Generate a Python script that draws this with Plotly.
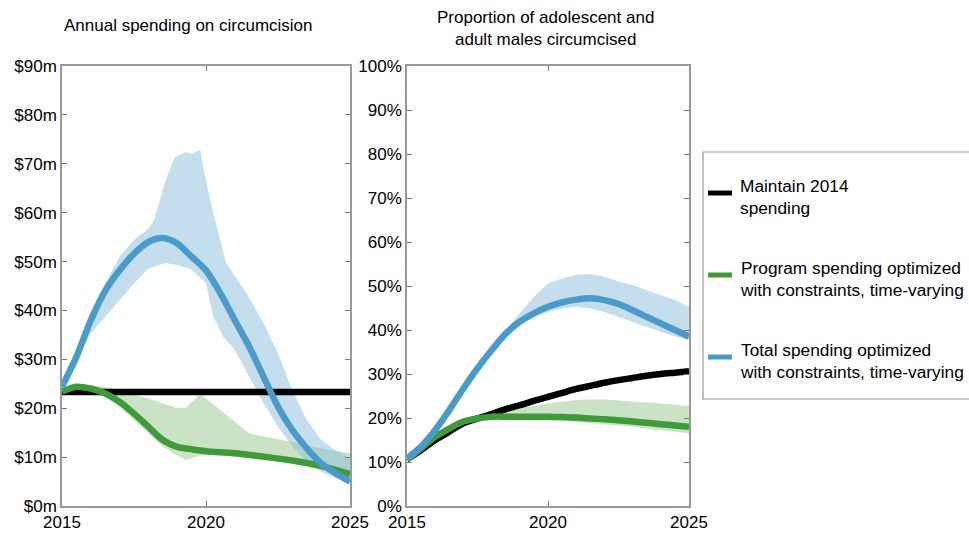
import plotly.graph_objects as go

# ---------------- data ----------------
years_L = [2015, 2015.5, 2016, 2016.5, 2017, 2017.5, 2018, 2018.5, 2019, 2019.5, 2020,
           2020.5, 2021, 2021.5, 2022, 2022.5, 2023, 2023.5, 2024, 2024.5, 2025]
blue_spend = [24.4, 30.5, 38, 44, 48.2, 51.6, 54, 54.8, 53.7, 51, 48.2,
              43.5, 38, 32.6, 26.4, 20.3, 15.5, 11.8, 8.7, 6.7, 5.0]
black_years_L = [2015, 2025]
black_spend = [23.3, 23.3]
green_years_L = [2015, 2015.5, 2016, 2016.5, 2017, 2017.5, 2018, 2018.5, 2019, 2019.5,
                 2020, 2021, 2022, 2023, 2024, 2025]
green_spend = [23.4, 24.4, 24, 23, 21.3, 18.9, 16.2, 13.5, 12.1, 11.6,
               11.2, 10.8, 10.1, 9.3, 8.2, 6.5]

blue_spend_hi_x = [2015, 2015.5, 2016, 2016.5, 2017, 2017.5, 2018, 2018.2, 2018.6, 2018.9,
                   2019.3, 2019.5, 2019.8, 2019.9, 2020.25, 2020.7, 2021.4, 2022, 2022.5,
                   2023, 2023.5, 2024, 2024.5, 2025]
blue_spend_hi = [25.4, 31.5, 38.7, 45.5, 51, 54.4, 56.7, 58.5, 66.7, 71.2,
                 72.4, 72.0, 72.8, 69.3, 60, 49.7, 43.6, 37.4, 31.2,
                 23.7, 17.6, 13.5, 11.4, 9.7]
blue_spend_lo_x = [2015, 2015.5, 2016, 2016.5, 2017, 2017.5, 2018, 2018.6, 2019, 2019.5,
                   2020, 2020.25, 2020.6, 2021, 2021.5, 2022, 2022.5, 2023, 2023.5, 2024,
                   2024.5, 2025]
blue_spend_lo = [23.7, 29.8, 35.3, 38.7, 42.1, 45.5, 48.6, 49.7, 49.3, 48.3,
                 45.6, 38.7, 34.6, 31.9, 26.4, 21, 16.2, 12.1, 9.1, 7,
                 5.7, 4.6]
green_spend_hi_x = [2015, 2015.5, 2016, 2016.5, 2017, 2017.5, 2018, 2018.5, 2019, 2019.3,
                    2019.8, 2020, 2020.5, 2021, 2021.5, 2022, 2023, 2024, 2025]
green_spend_hi = [23.4, 25, 24.7, 24.4, 23.7, 22.7, 22, 21, 20, 20.1,
                  22.9, 22, 19.6, 17.2, 14.9, 14.2, 13.1, 11.8, 10.8]
green_spend_lo_x = [2015, 2016, 2016.5, 2017, 2017.5, 2018, 2018.5, 2019, 2019.3, 2019.7,
                    2020, 2021, 2022, 2023, 2024, 2025]
green_spend_lo = [23, 23.4, 22.3, 20.3, 17.6, 14.9, 12.1, 10.4, 9.4, 10.1,
                  10.8, 10.1, 9.4, 8.7, 7.4, 6]

years_R = [2015, 2015.5, 2016, 2016.5, 2017, 2017.5, 2018, 2018.5, 2019, 2019.5, 2020,
           2020.5, 2021, 2021.5, 2022, 2022.5, 2023, 2023.5, 2024, 2024.5, 2025]
black_prop = [10.6, 12.7, 15, 16.9, 18.8, 19.9, 20.9, 22, 22.9, 23.9, 24.8,
              25.7, 26.6, 27.3, 28, 28.6, 29.1, 29.6, 30, 30.3, 30.6]
green_prop = [10.6, 13.1, 15.7, 17.6, 19.2, 19.9, 20.3, 20.3, 20.3, 20.3, 20.3,
              20.2, 20.1, 19.9, 19.7, 19.5, 19.2, 18.9, 18.6, 18.3, 18]
blue_prop = [10.8, 13.5, 17.3, 21.8, 26.7, 31.3, 35.4, 39.2, 41.9, 43.8, 45.3,
             46.3, 46.9, 47.2, 46.8, 45.9, 44.5, 43, 41.5, 40, 38.5]
band_years_R = [2015, 2016, 2017, 2018, 2019, 2019.5, 2020, 2020.5, 2021, 2021.5, 2022,
                2022.5, 2023, 2023.5, 2024, 2024.5, 2025]
blue_prop_hi = [10.8, 17.6, 27.1, 36.2, 43.8, 47.5, 50.6, 51.7, 52.5, 52.7, 52.1,
                51, 50.2, 49, 47.9, 46.8, 45.3]
blue_prop_lo = [10.8, 17, 26.3, 34.7, 41.1, 43, 44.1, 44.9, 45.3, 44.9, 44.1,
                43, 41.9, 40.7, 39.6, 38.5, 37.7]
green_prop_hi = [10.6, 15.9, 19.4, 20.7, 22.2, 22.8, 23.3, 23.7, 24.1, 24.2, 24.2,
                 24.0, 23.7, 23.5, 23.3, 23.0, 22.7]
green_prop_lo = [10.6, 15.5, 19.0, 19.9, 19.5, 19.5, 19.5, 19.4, 19.2, 18.9, 18.6,
                 18.3, 18, 17.7, 17.3, 16.9, 16.5]

x_ticks = [2015, 2020, 2025]
spend_ticks = [0, 10, 20, 30, 40, 50, 60, 70, 80, 90]
spend_labels = ["$%dm" % v for v in spend_ticks]
prop_ticks = [0, 10, 20, 30, 40, 50, 60, 70, 80, 90, 100]
prop_labels = ["%d%%" % v for v in prop_ticks]

legend_labels = ["Maintain 2014<br>spending",
                 "Program spending optimized<br>with constraints, time-varying",
                 "Total spending optimized<br>with constraints, time-varying"]

# ---------------- styles ----------------
BLACK = "#000000"
GREEN = "#3f9b3a"
BLUE = "#4a9bc9"
BLUE_BAND = "rgba(140,190,222,0.5)"
GREEN_BAND = "rgba(150,200,140,0.5)"
FONT = "Liberation Sans, Arial, sans-serif"
LW = 6.5

fig = go.Figure()


def band(xhi, yhi, xlo, ylo, color, xa, ya):
    fig.add_trace(go.Scatter(x=list(xhi) + list(xlo)[::-1], y=list(yhi) + list(ylo)[::-1],
                             fill="toself", fillcolor=color, line=dict(width=0),
                             mode="lines", hoverinfo="skip", showlegend=False,
                             xaxis=xa, yaxis=ya))


def line(x, y, color, xa, ya):
    fig.add_trace(go.Scatter(x=x, y=y, mode="lines",
                             line=dict(color=color, width=LW, shape="spline", smoothing=0.8),
                             showlegend=False, xaxis=xa, yaxis=ya))


# left panel
band(green_spend_hi_x, green_spend_hi, green_spend_lo_x, green_spend_lo, GREEN_BAND, "x", "y")
band(blue_spend_hi_x, blue_spend_hi, blue_spend_lo_x, blue_spend_lo, BLUE_BAND, "x", "y")
line(black_years_L, black_spend, BLACK, "x", "y")
line(green_years_L, green_spend, GREEN, "x", "y")
line(years_L, blue_spend, BLUE, "x", "y")

# right panel
band(band_years_R, green_prop_hi, band_years_R, green_prop_lo, GREEN_BAND, "x2", "y2")
band(band_years_R, blue_prop_hi, band_years_R, blue_prop_lo, BLUE_BAND, "x2", "y2")
line(years_R, black_prop, BLACK, "x2", "y2")
line(years_R, green_prop, GREEN, "x2", "y2")
line(years_R, blue_prop, BLUE, "x2", "y2")

W, H = 969, 536


def px(x):
    return x / W


def py(y):
    return 1 - y / H


yd = [py(506), py(66)]
axis_common = dict(showline=True, linecolor="#999999", linewidth=1.5, mirror="ticks",
                   ticks="inside", ticklen=5, tickcolor="#777777", showgrid=False, zeroline=False,
                   automargin=False,
                   tickfont=dict(family=FONT, size=17, color="#000000"))

fig.update_layout(
    width=W, height=H,
    margin=dict(l=0, r=0, t=0, b=0, autoexpand=False),
    paper_bgcolor="white", plot_bgcolor="white",
    xaxis=dict(domain=[px(62), px(350)], range=[2015, 2025], tickvals=x_ticks,
               anchor="y", **axis_common),
    yaxis=dict(domain=yd, range=[0, 90], tickvals=spend_ticks, ticktext=spend_labels,
               anchor="x", **axis_common),
    xaxis2=dict(domain=[px(407), px(689)], range=[2015, 2025], tickvals=x_ticks,
                anchor="y2", **axis_common),
    yaxis2=dict(domain=yd, range=[0, 100], tickvals=prop_ticks, ticktext=prop_labels,
                anchor="x2", **axis_common),
    showlegend=False,
)

# titles
fig.add_annotation(x=px(188), y=py(25), xref="paper", yref="paper", showarrow=False,
                   xanchor="center", yanchor="middle",
                   text="Annual spending on circumcision", font=dict(family=FONT, size=17, color="black"))
fig.add_annotation(x=px(545), y=py(29), xref="paper", yref="paper", showarrow=False,
                   xanchor="center", yanchor="middle",
                   text="Proportion of adolescent and<br>adult males circumcised",
                   font=dict(family=FONT, size=17, color="black"))

# legend box
fig.add_shape(type="rect", xref="paper", yref="paper", x0=px(703), x1=1.05,
              y0=py(399), y1=py(152), line=dict(color="#999999", width=1.2),
              fillcolor="white")
leg_colors = [BLACK, GREEN, BLUE]
leg_y = [193, 275, 357]
for lab, col, yy in zip(legend_labels, leg_colors, leg_y):
    fig.add_shape(type="line", xref="paper", yref="paper", x0=px(708), x1=px(732),
                  y0=py(yy), y1=py(yy), line=dict(color=col, width=5))
    fig.add_annotation(x=px(738), y=py(yy + 4), xref="paper", yref="paper",
                       xanchor="left", yanchor="middle", showarrow=False, align="left",
                       text=lab, font=dict(family=FONT, size=17.3, color="black"))

fig.write_html("out.html", config={"displayModeBar": False},
               post_script="document.body.style.margin='0px';document.body.style.overflow='hidden';")
